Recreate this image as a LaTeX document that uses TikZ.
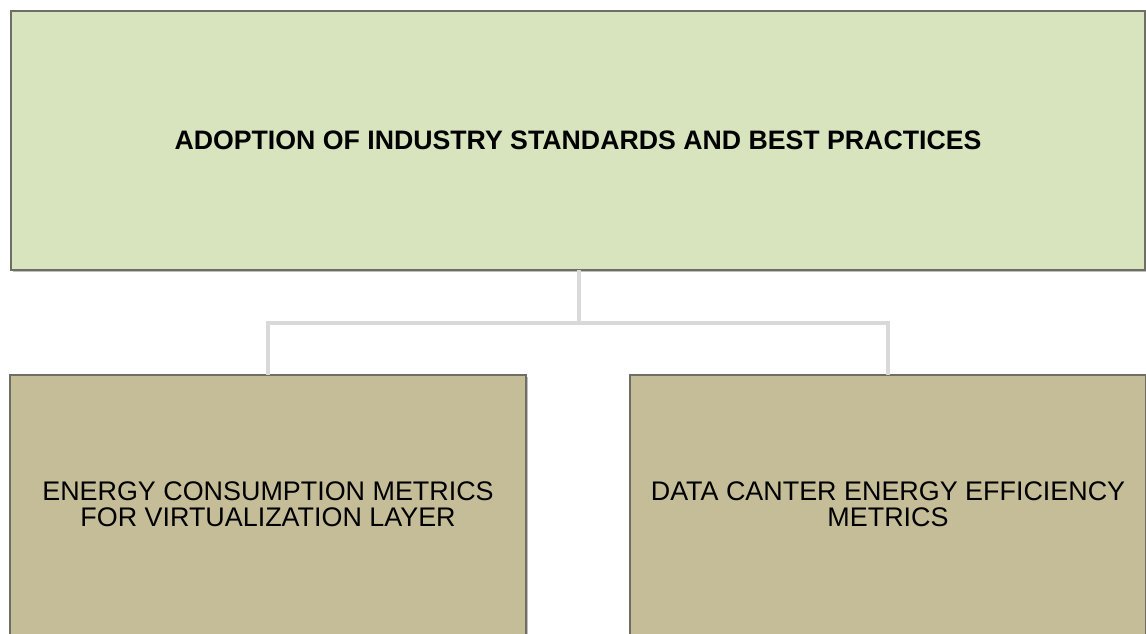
\documentclass[tikz,border=0pt]{standalone}
\usepackage{fontspec}
\setmainfont{Liberation Sans}
\usetikzlibrary{shadows}
\definecolor{topfill}{HTML}{D7E4BD}
\definecolor{botfill}{HTML}{C4BD97}
\definecolor{edgecol}{HTML}{6E6E66}
\definecolor{linkcol}{HTML}{D9D9D9}
\begin{document}
\begin{tikzpicture}[x=1pt,y=1pt,
  boxstyle/.style={draw=edgecol,line width=1.2pt,inner sep=0pt,outer sep=0pt,
    drop shadow={shadow xshift=2pt,shadow yshift=-2pt,opacity=0.25,fill=black}},
  topbox/.style={boxstyle,fill=topfill,minimum width=1134pt,minimum height=259pt,
    font=\fontsize{26.7}{28}\selectfont\bfseries},
  botbox/.style={boxstyle,fill=botfill,minimum width=516pt,minimum height=266pt,
    align=center,font=\fontsize{26.9}{27}\selectfont},
  link/.style={draw=linkcol,line width=4.5pt}]
\useasboundingbox (0,0) rectangle (1146,633);
\clip (0,0) rectangle (1146,633);
\node[topbox] (top) at (578,492.5) {ADOPTION OF INDUSTRY STANDARDS AND BEST PRACTICES};
\node[botbox] (left) at (268,125) {\raisebox{3pt}{\begin{tabular}{@{}c@{}}ENERGY CONSUMPTION METRICS\\[-1pt]FOR VIRTUALIZATION LAYER\end{tabular}}};
\node[botbox] (right) at (888,125) {\raisebox{3pt}{\begin{tabular}{@{}c@{}}DATA CANTER ENERGY EFFICIENCY\\[-1pt]METRICS\end{tabular}}};
\coordinate (mid) at (579,310);
\draw[link] (top.south -| mid) -- (mid);
\draw[link] (left.north) |- (mid) -| (right.north);
\end{tikzpicture}
\end{document}
